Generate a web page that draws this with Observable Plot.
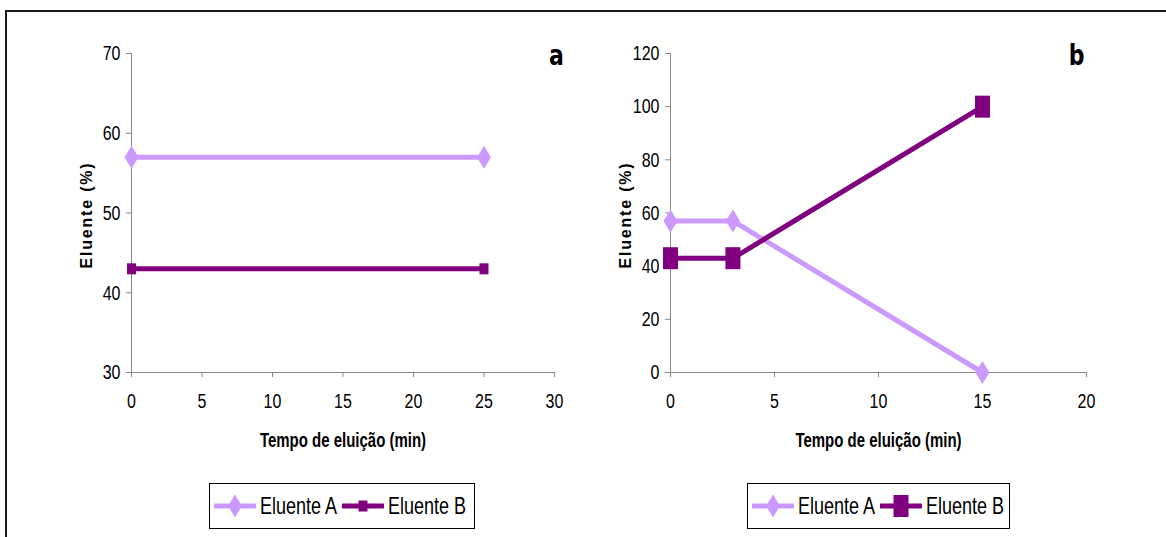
<!DOCTYPE html>
<html>
<head>
<meta charset="utf-8">
<script src="https://cdn.jsdelivr.net/npm/d3@7"></script>
<script src="https://cdn.jsdelivr.net/npm/@observablehq/plot@0.6"></script>
<style>
  body { margin: 0; background: #fff; }
  #fig { position: relative; width: 1166px; height: 537px; overflow: hidden; background: #fff; }
  #fig .rule-top { position: absolute; left: 5px; top: 10px; width: 1161px; height: 2px; background: #1a1a1a; }
  #fig .rule-left { position: absolute; left: 5px; top: 10px; width: 2px; height: 527px; background: #1a1a1a; }
  .panel { position: absolute; top: 0; }
  .legend {
    position: absolute; top: 483px; height: 46px; box-sizing: border-box;
    border: 1.5px solid #000; background: #fff;
    display: flex; align-items: center; padding-left: 4px;
    font-family: "Liberation Sans", Arial, sans-serif;
    font-size: 18px; color: #000; white-space: nowrap;
  }
  .legend svg { display: block; flex: none; }
  .legend span { display: inline-block; margin: 0 5px 0 4px; transform: scaleY(1.3); }
</style>
</head>
<body>
<div id="fig">
  <div class="rule-top"></div>
  <div class="rule-left"></div>
</div>
<script>
// Gradient programmes: eluent composition (%) against elution time (min)
const seriesNames = ["Eluente A", "Eluente B"];
const seriesColors = ["#CC99FF", "#800080"];

// Panel a: isocratic run
const timeA = [0, 25];
const eluenteA_a = [57, 57];
const eluenteB_a = [43, 43];
const xTicksA = [0, 5, 10, 15, 20, 25, 30];
const yTicksA = [30, 40, 50, 60, 70];

// Panel b: gradient run
const timeB = [0, 3, 15];
const eluenteA_b = [57, 57, 0];
const eluenteB_b = [43, 43, 100];
const xTicksB = [0, 5, 10, 15, 20];
const yTicksB = [0, 20, 40, 60, 80, 100, 120];

const xTitle = "Tempo de eluição (min)";
const yTitle = "Eluente (%)";
const panelLetters = ["a", "b"];

const sans = "'Liberation Sans', Arial, sans-serif";
const STRETCH = 1.3;        // tall, condensed look of the lettering
const TITLE_STRETCH = 1.0;  // along the rotated y-axis title

// Marker shapes (width x height in px)
function diamond(w, h) {
  return { draw(ctx) { ctx.moveTo(0, -h / 2); ctx.lineTo(w / 2, 0); ctx.lineTo(0, h / 2); ctx.lineTo(-w / 2, 0); ctx.closePath(); } };
}
function box(w, h) {
  return { draw(ctx) { ctx.rect(-w / 2, -h / 2, w, h); } };
}

// Stretch each text element about the centre of its own box (needs the svg in the document)
function stretchText(svg) {
  d3.select(svg).selectAll("text").each(function () {
    const el = d3.select(this);
    const bb = this.getBBox();
    const cx = bb.x + bb.width / 2, cy = bb.y + bb.height / 2;
    const t = el.attr("transform") || "";
    if (/rotate\(/.test(t)) {
      el.attr("transform", `${t} translate(${cx},0) scale(${TITLE_STRETCH},1) translate(${-cx},0)`);
    } else {
      el.attr("transform", `${t} translate(0,${cy}) scale(1,${STRETCH}) translate(0,${-cy})`);
    }
  });
}

function makePanel({time, a, b, xDomain, yDomain, xTicks, yTicks, markA, markB, letter, letterDx, marginLeft, marginRight}) {
  const rowsA = time.map((t, i) => ({t, v: a[i]}));
  const rowsB = time.map((t, i) => ({t, v: b[i]}));
  const svg = Plot.plot({
    width: 583,
    height: 537,
    marginTop: 53,
    marginBottom: 165,
    marginLeft,
    marginRight,
    style: {fontFamily: sans, fontSize: "16px", color: "black", background: "transparent", overflow: "visible"},
    x: {domain: xDomain},
    y: {domain: yDomain},
    marks: [
      Plot.ruleX([xDomain[0]], {stroke: "#888"}),
      Plot.ruleY([yDomain[0]], {stroke: "#888"}),
      Plot.axisY({ticks: yTicks, tickSize: 5, tickPadding: 6, stroke: "#888", fill: "black", label: null, tickFormat: d => String(d)}),
      Plot.axisX({ticks: xTicks, tickSize: 5, tickPadding: 17, stroke: "#888", fill: "black", label: null, tickFormat: d => String(d)}),
      Plot.line(rowsA, {x: "t", y: "v", stroke: seriesColors[0], strokeWidth: 5, strokeLinejoin: "miter", strokeLinecap: "butt"}),
      Plot.dot(rowsA, {x: "t", y: "v", symbol: markA, r: 6, fill: seriesColors[0], stroke: "none"}),
      Plot.line(rowsB, {x: "t", y: "v", stroke: seriesColors[1], strokeWidth: 5, strokeLinejoin: "miter", strokeLinecap: "butt"}),
      Plot.dot(rowsB, {x: "t", y: "v", symbol: markB, r: 6, fill: seriesColors[1], stroke: "none"}),
      Plot.text([xTitle], {frameAnchor: "bottom", dy: 68, lineAnchor: "middle", fontWeight: "bold", fontSize: 15}),
      Plot.text([yTitle], {frameAnchor: "left", dx: -45, dy: 2, rotate: -90, lineAnchor: "middle", textAnchor: "middle",
        fontWeight: "bold", fontSize: 16}),
      Plot.text([letter], {frameAnchor: "top-right", dx: letterDx, dy: 2, textAnchor: "middle", lineAnchor: "middle",
        fontFamily: "'DejaVu Sans', sans-serif", fontWeight: "bold", fontSize: 22})
    ]
  });
  d3.select(svg).selectAll("text").filter(function () { return this.textContent === yTitle; })
    .style("letter-spacing", "1.8px");
  return svg;
}

function legend(left, width, markB) {
  const div = document.createElement("div");
  div.className = "legend";
  div.style.left = left + "px";
  div.style.width = width + "px";
  const marks = [diamond(14, 23), markB];
  seriesNames.forEach((name, i) => {
    const sw = d3.create("svg").attr("width", 42).attr("height", 30);
    sw.append("line").attr("x1", 1).attr("x2", 41).attr("y1", 15).attr("y2", 15)
      .attr("stroke", seriesColors[i]).attr("stroke-width", 5).attr("stroke-linecap", "round");
    sw.append("path").attr("transform", "translate(21,15)")
      .attr("d", d3.symbol(marks[i])()).attr("fill", seriesColors[i]);
    div.appendChild(sw.node());
    const span = document.createElement("span");
    span.textContent = name;
    div.appendChild(span);
  });
  return div;
}

const fig = document.getElementById("fig");

const svgA = makePanel({
  time: timeA, a: eluenteA_a, b: eluenteB_a,
  xDomain: [0, 30], yDomain: [30, 70], xTicks: xTicksA, yTicks: yTicksA,
  markA: diamond(14, 23), markB: box(9, 11),
  letter: panelLetters[0], letterDx: 2, marginLeft: 131, marginRight: 29
});
svgA.classList.add("panel");
svgA.style.left = "0px";
fig.appendChild(svgA);
stretchText(svgA);

const svgB = makePanel({
  time: timeB, a: eluenteA_b, b: eluenteB_b,
  xDomain: [0, 20], yDomain: [0, 120], xTicks: xTicksB, yTicks: yTicksB,
  markA: diamond(14, 23), markB: box(15, 22),
  letter: panelLetters[1], letterDx: -10, marginLeft: 87, marginRight: 80
});
svgB.classList.add("panel");
svgB.style.left = "583px";
fig.appendChild(svgB);
stretchText(svgB);

fig.appendChild(legend(209, 266, box(9, 11)));
fig.appendChild(legend(747, 263, box(15, 22)));
</script>
</body>
</html>
